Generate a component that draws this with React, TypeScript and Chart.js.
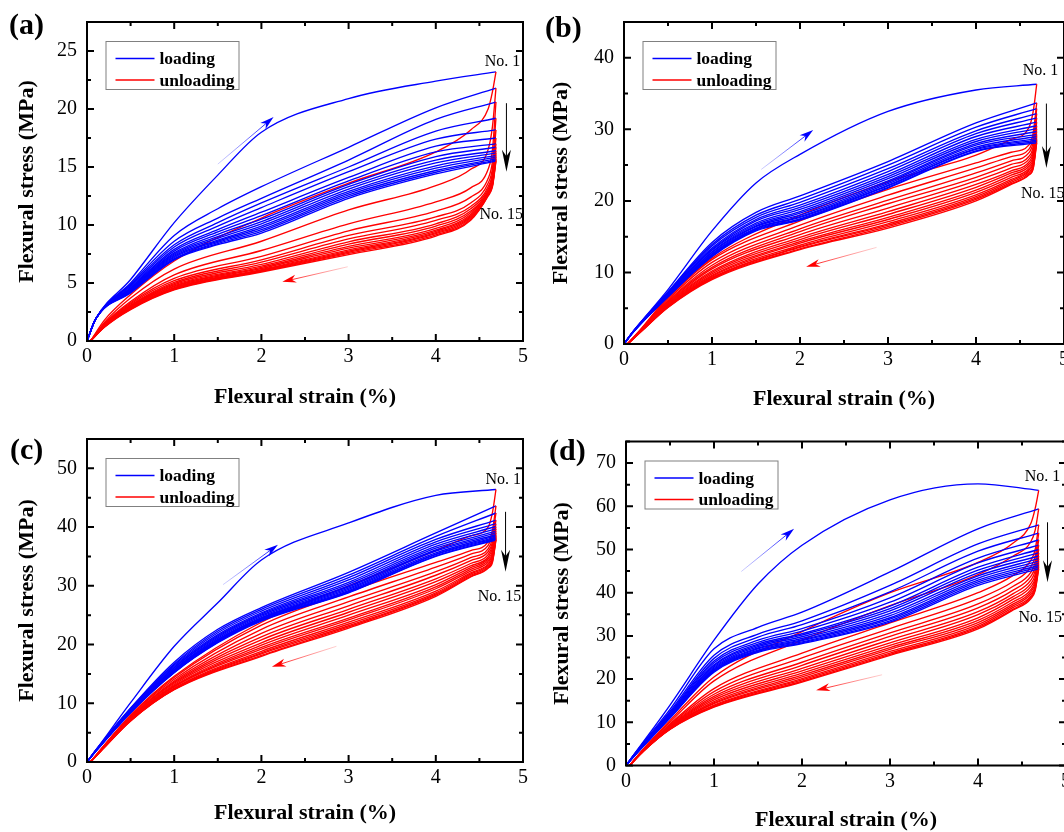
import React, { useEffect, useRef } from 'react';
import { Chart, registerables } from 'chart.js';

Chart.register(...registerables);

// ---------- data ----------
const strainLoad = [0, 0.1, 0.5, 1, 1.5, 2, 3, 4, 4.69];
const strainUnload = [0.04, 0.2, 0.5, 1, 2, 3, 4, 4.4, 4.6, 4.65, 4.69];
const strainTicks = [0, 1, 2, 3, 4, 5];
const stressMax = [27.5, 45, 55, 75];
const stressStep = [5, 10, 10, 10];

const loadingA = [
  [0, 1.9, 5.3, 10.2, 14.3, 18.0, 20.9, 22.4, 23.2],
  [0, 1.9, 5.0, 9.1, 11.4, 13.3, 16.7, 20.1, 21.8],
  [0, 1.9, 4.9, 8.6, 10.6, 12.3, 15.6, 19.1, 20.6],
  [0, 1.9, 4.8, 8.3, 10.2, 11.9, 15.0, 18.1, 19.2],
  [0, 1.9, 4.7, 8.1, 9.9, 11.5, 14.6, 17.4, 18.2],
  [0, 1.9, 4.6, 7.9, 9.6, 11.1, 14.1, 16.8, 17.5],
  [0, 1.9, 4.55, 7.75, 9.4, 10.8, 13.8, 16.3, 17.0],
  [0, 1.9, 4.5, 7.6, 9.2, 10.5, 13.5, 15.9, 16.7],
  [0, 1.9, 4.45, 7.5, 9.0, 10.3, 13.3, 15.6, 16.4],
  [0, 1.9, 4.4, 7.4, 8.85, 10.1, 13.1, 15.35, 16.2],
  [0, 1.9, 4.35, 7.3, 8.7, 9.9, 12.9, 15.1, 16.0],
  [0, 1.9, 4.3, 7.2, 8.6, 9.75, 12.75, 14.9, 15.85],
  [0, 1.9, 4.25, 7.1, 8.5, 9.6, 12.6, 14.7, 15.7],
  [0, 1.9, 4.2, 7.05, 8.4, 9.45, 12.45, 14.55, 15.6],
  [0, 1.9, 4.15, 7.0, 8.3, 9.3, 12.3, 14.4, 15.5],
];
const unloadingA = [
  [0, 1.8, 4.0, 6.9, 10.6, 13.6, 16.3, 18.2, 20.0, 21.5, 23.2],
  [0, 1.6, 3.7, 6.2, 8.6, 11.3, 13.4, 14.8, 16.5, 18.5, 21.8],
  [0, 1.5, 3.4, 5.7, 7.8, 10.1, 12.0, 13.2, 14.8, 16.5, 20.6],
  [0, 1.45, 3.3, 5.4, 7.3, 9.5, 11.2, 12.4, 14.0, 15.5, 19.2],
  [0, 1.4, 3.2, 5.2, 7.0, 9.1, 10.7, 11.9, 13.6, 14.9, 18.2],
  [0, 1.38, 3.1, 5.05, 6.8, 8.8, 10.4, 11.6, 13.3, 14.5, 17.5],
  [0, 1.35, 3.05, 4.95, 6.6, 8.55, 10.1, 11.4, 13.1, 14.2, 17.0],
  [0, 1.33, 3.0, 4.85, 6.45, 8.35, 9.9, 11.2, 12.95, 14.0, 16.7],
  [0, 1.3, 2.95, 4.75, 6.35, 8.15, 9.7, 11.05, 12.85, 13.8, 16.4],
  [0, 1.28, 2.9, 4.68, 6.25, 8.0, 9.55, 10.9, 12.75, 13.7, 16.2],
  [0, 1.26, 2.85, 4.6, 6.15, 7.85, 9.45, 10.8, 12.7, 13.6, 16.0],
  [0, 1.24, 2.8, 4.55, 6.1, 7.75, 9.35, 10.7, 12.65, 13.5, 15.85],
  [0, 1.22, 2.78, 4.5, 6.05, 7.65, 9.25, 10.6, 12.6, 13.45, 15.7],
  [0, 1.2, 2.75, 4.45, 6.0, 7.55, 9.15, 10.5, 12.55, 13.4, 15.6],
  [0, 1.18, 2.7, 4.4, 5.95, 7.45, 9.05, 10.4, 12.5, 13.3, 15.5],
];

const loadingB = [
  [0, 1.7, 7.6, 15.8, 22.5, 26.5, 32.5, 35.5, 36.3],
  [0, 1.7, 7.3, 14.2, 18.4, 20.7, 25.5, 30.9, 33.7],
  [0, 1.7, 7.2, 13.9, 18.0, 20.2, 25.0, 30.3, 32.9],
  [0, 1.7, 7.1, 13.7, 17.7, 19.8, 24.5, 29.8, 32.2],
  [0, 1.7, 7.0, 13.4, 17.4, 19.4, 24.1, 29.4, 31.6],
  [0, 1.65, 7.0, 13.2, 17.2, 19.1, 23.7, 29.0, 31.0],
  [0, 1.65, 6.9, 13.1, 16.9, 18.8, 23.4, 28.6, 30.5],
  [0, 1.65, 6.8, 12.9, 16.7, 18.5, 23.1, 28.3, 30.1],
  [0, 1.65, 6.8, 12.8, 16.5, 18.3, 22.8, 28.0, 29.7],
  [0, 1.6, 6.75, 12.6, 16.4, 18.0, 22.6, 27.8, 29.3],
  [0, 1.6, 6.7, 12.5, 16.2, 17.8, 22.4, 27.5, 29.0],
  [0, 1.6, 6.7, 12.4, 16.1, 17.7, 22.2, 27.3, 28.7],
  [0, 1.6, 6.65, 12.3, 16.0, 17.5, 22.1, 27.2, 28.5],
  [0, 1.6, 6.6, 12.3, 15.9, 17.4, 21.9, 27.0, 28.3],
  [0, 1.6, 6.6, 12.2, 15.8, 17.3, 21.8, 26.9, 28.1],
];
const unloadingB = [
  [0, 2.2, 6.6, 12.0, 18.0, 22.7, 26.4, 28.6, 30.2, 32.5, 36.3],
  [0, 2.15, 6.4, 11.8, 17.2, 21.6, 25.3, 26.8, 27.8, 29.5, 33.7],
  [0, 2.1, 6.2, 11.4, 16.6, 20.8, 24.6, 26.2, 27.2, 28.8, 32.9],
  [0, 2.05, 6.0, 11.0, 16.1, 20.1, 23.9, 25.6, 26.7, 28.2, 32.2],
  [0, 2.0, 5.9, 10.7, 15.7, 19.6, 23.3, 25.1, 26.2, 27.6, 31.6],
  [0, 1.98, 5.75, 10.5, 15.3, 19.0, 22.8, 24.6, 25.8, 27.1, 31.0],
  [0, 1.95, 5.65, 10.2, 14.9, 18.5, 22.3, 24.2, 25.4, 26.7, 30.5],
  [0, 1.92, 5.55, 10.0, 14.6, 18.1, 21.9, 23.9, 25.1, 26.3, 30.1],
  [0, 1.9, 5.45, 9.8, 14.3, 17.7, 21.5, 23.6, 24.8, 25.9, 29.7],
  [0, 1.88, 5.38, 9.6, 14.1, 17.4, 21.2, 23.3, 24.5, 25.6, 29.3],
  [0, 1.86, 5.3, 9.45, 13.8, 17.1, 20.85, 23.0, 24.3, 25.3, 29.0],
  [0, 1.84, 5.25, 9.3, 13.6, 16.8, 20.6, 22.8, 24.1, 25.0, 28.7],
  [0, 1.82, 5.2, 9.2, 13.5, 16.6, 20.4, 22.6, 23.9, 24.8, 28.5],
  [0, 1.81, 5.15, 9.1, 13.3, 16.4, 20.2, 22.4, 23.7, 24.6, 28.3],
  [0, 1.8, 5.1, 9.0, 13.2, 16.2, 20.0, 22.3, 23.6, 24.5, 28.1],
];

const loadingC = [
  [0, 2.0, 10.1, 19.7, 27.1, 34.4, 40.7, 45.4, 46.4],
  [0, 2.0, 9.2, 17.0, 22.6, 26.3, 32.3, 39.0, 43.6],
  [0, 2.0, 9.1, 16.7, 22.3, 26.0, 31.8, 38.4, 42.4],
  [0, 1.95, 9.0, 16.5, 22.0, 25.7, 31.4, 37.9, 41.2],
  [0, 1.95, 8.9, 16.3, 21.7, 25.4, 31.0, 37.5, 40.6],
  [0, 1.95, 8.8, 16.1, 21.5, 25.2, 30.6, 37.1, 40.1],
  [0, 1.9, 8.7, 16.0, 21.3, 25.0, 30.3, 36.7, 39.7],
  [0, 1.9, 8.7, 15.8, 21.1, 24.8, 30.0, 36.4, 39.3],
  [0, 1.9, 8.6, 15.7, 20.9, 24.6, 29.8, 36.1, 39.0],
  [0, 1.85, 8.6, 15.6, 20.8, 24.5, 29.6, 35.9, 38.7],
  [0, 1.85, 8.5, 15.5, 20.7, 24.4, 29.4, 35.6, 38.5],
  [0, 1.85, 8.5, 15.4, 20.6, 24.3, 29.2, 35.4, 38.3],
  [0, 1.8, 8.45, 15.3, 20.5, 24.2, 29.0, 35.3, 38.1],
  [0, 1.8, 8.4, 15.25, 20.4, 24.1, 28.9, 35.1, 37.95],
  [0, 1.8, 8.4, 15.2, 20.3, 24.0, 28.8, 35.0, 37.8],
];
const unloadingC = [
  [0, 2.9, 8.0, 14.6, 23.8, 30.0, 36.0, 38.5, 40.0, 42.5, 46.4],
  [0, 2.85, 7.9, 14.4, 23.3, 29.0, 34.0, 36.0, 37.5, 39.5, 43.6],
  [0, 2.8, 7.8, 14.1, 22.6, 28.1, 33.2, 35.4, 36.9, 38.7, 42.4],
  [0, 2.75, 7.65, 13.8, 21.9, 27.3, 32.4, 34.8, 36.3, 38.0, 41.2],
  [0, 2.7, 7.55, 13.6, 21.3, 26.6, 31.8, 34.3, 35.8, 37.4, 40.6],
  [0, 2.68, 7.45, 13.4, 20.8, 26.0, 31.2, 33.8, 35.3, 36.9, 40.1],
  [0, 2.65, 7.35, 13.2, 20.3, 25.5, 30.7, 33.4, 34.9, 36.4, 39.7],
  [0, 2.62, 7.3, 13.0, 19.9, 25.0, 30.2, 33.1, 34.6, 35.9, 39.3],
  [0, 2.6, 7.25, 12.9, 19.5, 24.5, 29.8, 32.8, 34.3, 35.5, 39.0],
  [0, 2.58, 7.2, 12.8, 19.2, 24.2, 29.5, 32.5, 34.0, 35.2, 38.7],
  [0, 2.56, 7.15, 12.6, 18.85, 23.8, 29.1, 32.2, 33.7, 34.9, 38.5],
  [0, 2.54, 7.1, 12.5, 18.6, 23.5, 28.8, 32.0, 33.5, 34.6, 38.3],
  [0, 2.52, 7.05, 12.4, 18.4, 23.2, 28.6, 31.8, 33.3, 34.4, 38.1],
  [0, 2.51, 7.0, 12.35, 18.15, 23.0, 28.4, 31.6, 33.1, 34.2, 37.95],
  [0, 2.5, 7.0, 12.3, 18.0, 22.8, 28.2, 31.5, 33.0, 34.0, 37.8],
];

const loadingD = [
  [0, 2.8, 14.0, 29.0, 42.0, 51.0, 61.5, 65.2, 63.7],
  [0, 2.8, 13.0, 27.0, 32.0, 35.5, 44.8, 54.8, 59.4],
  [0, 2.7, 12.5, 25.5, 30.4, 33.5, 41.7, 51.3, 55.7],
  [0, 2.7, 12.2, 24.8, 29.7, 32.6, 40.2, 49.6, 53.8],
  [0, 2.6, 12.0, 24.2, 29.0, 31.7, 38.8, 48.0, 52.2],
  [0, 2.6, 11.8, 23.8, 28.5, 31.1, 37.8, 46.9, 51.0],
  [0, 2.6, 11.6, 23.3, 28.1, 30.5, 36.9, 45.9, 50.0],
  [0, 2.5, 11.5, 23.1, 27.8, 30.2, 36.3, 45.2, 49.2],
  [0, 2.5, 11.4, 22.8, 27.5, 29.8, 35.8, 44.6, 48.5],
  [0, 2.5, 11.3, 22.5, 27.2, 29.4, 35.2, 43.9, 47.9],
  [0, 2.4, 11.3, 22.3, 27.0, 29.1, 34.7, 43.4, 47.3],
  [0, 2.4, 11.2, 22.1, 26.7, 28.9, 34.2, 42.9, 46.8],
  [0, 2.4, 11.1, 21.9, 26.5, 28.6, 33.9, 42.5, 46.3],
  [0, 2.3, 11.05, 21.8, 26.4, 28.4, 33.5, 42.1, 45.9],
  [0, 2.3, 11.0, 21.6, 26.2, 28.2, 33.2, 41.7, 45.5],
];
const unloadingD = [
  [0, 3.9, 10.4, 20.5, 31.0, 40.0, 47.0, 51.5, 56.0, 59.5, 63.7],
  [0, 3.8, 10.0, 19.6, 29.0, 37.0, 44.2, 48.5, 51.8, 54.5, 59.4],
  [0, 3.7, 9.6, 17.8, 26.0, 33.0, 40.0, 44.0, 47.5, 50.0, 55.7],
  [0, 3.65, 9.4, 17.1, 24.9, 31.7, 38.6, 42.6, 46.0, 48.4, 53.8],
  [0, 3.6, 9.2, 16.5, 23.9, 30.7, 37.4, 41.5, 44.7, 47.1, 52.2],
  [0, 3.56, 9.05, 16.0, 23.2, 29.9, 36.5, 40.6, 43.8, 46.0, 51.0],
  [0, 3.52, 8.95, 15.6, 22.5, 29.1, 35.6, 39.8, 42.9, 45.1, 50.0],
  [0, 3.48, 8.85, 15.2, 21.9, 28.4, 34.9, 39.1, 42.1, 44.2, 49.2],
  [0, 3.45, 8.75, 14.8, 21.4, 27.8, 34.2, 38.5, 41.4, 43.4, 48.5],
  [0, 3.42, 8.65, 14.5, 20.9, 27.3, 33.6, 37.9, 40.7, 42.8, 47.9],
  [0, 3.4, 8.55, 14.3, 20.5, 26.9, 33.1, 37.4, 40.2, 42.2, 47.3],
  [0, 3.38, 8.5, 14.0, 20.1, 26.4, 32.6, 37.0, 39.7, 41.6, 46.8],
  [0, 3.36, 8.45, 13.8, 19.8, 26.0, 32.2, 36.6, 39.2, 41.2, 46.3],
  [0, 3.35, 8.4, 13.6, 19.5, 25.7, 31.9, 36.2, 38.9, 40.8, 45.9],
  [0, 3.34, 8.35, 13.5, 19.3, 25.5, 31.6, 36.0, 38.6, 40.5, 45.5],
];

// ---------- styling / layout ----------
const SERIF = '"Liberation Serif", "Times New Roman", Times, serif';
const BLUE = '#0000ff';
const RED = '#ff0000';

type Note = { text: string; x: number; y: number };
type Arrow = { x1: number; y1: number; x2: number; y2: number; color: string; fade: string | null; head: number; half: number };

interface PanelCfg {
  label: string;
  left: number; top: number; width: number; height: number;
  padTop: number; padRight: number; yWidth: number; xHeight: number;
  yTitlePad: number; xTitlePad: number;
  labelX: number; labelY: number;
  yMax: number; yStep: number;
  loading: number[][]; unloading: number[][];
  notes: Note[]; arrows: Arrow[];
}

const arrowsFor = (b: number[], r: number[], k: number[]): Arrow[] => [
  { x1: b[0], y1: b[1], x2: b[2], y2: b[3], color: BLUE, fade: 'rgba(120,120,255,0.35)', head: 14, half: 4 },
  { x1: r[0], y1: r[1], x2: r[2], y2: r[3], color: RED, fade: 'rgba(255,120,120,0.35)', head: 14, half: 4 },
  { x1: k[0], y1: k[1], x2: k[2], y2: k[3], color: '#000', fade: null, head: 22, half: 4.5 },
];

const panels: PanelCfg[] = [
  {
    label: '(a)', left: 0, top: 0, width: 532, height: 416,
    padTop: 16, padRight: 5, yWidth: 87, xHeight: 75, yTitlePad: 14, xTitlePad: 5,
    labelX: 9, labelY: 34, yMax: stressMax[0], yStep: stressStep[0],
    loading: loadingA, unloading: unloadingA,
    notes: [{ text: 'No. 1', x: 4.56, y: 24.1 }, { text: 'No. 15', x: 4.5, y: 10.9 }],
    arrows: arrowsFor([1.5, 15.25, 2.14, 19.3], [2.99, 6.4, 2.24, 5.1], [4.81, 20.5, 4.81, 14.6]),
  },
  {
    label: '(b)', left: 532, top: 0, width: 560, height: 416,
    padTop: 21, padRight: 28, yWidth: 92, xHeight: 72, yTitlePad: 16, xTitlePad: 3,
    labelX: 13, labelY: 37, yMax: stressMax[1], yStep: stressStep[1],
    loading: loadingB, unloading: unloadingB,
    notes: [{ text: 'No. 1', x: 4.53, y: 38.2 }, { text: 'No. 15', x: 4.51, y: 21.0 }],
    arrows: arrowsFor([1.56, 24.4, 2.15, 29.9], [2.87, 13.5, 2.07, 10.8], [4.8, 33.6, 4.8, 24.6]),
  },
  {
    label: '(c)', left: 0, top: 416, width: 532, height: 416,
    padTop: 23, padRight: 5, yWidth: 87, xHeight: 70, yTitlePad: 14, xTitlePad: 5,
    labelX: 10, labelY: 43, yMax: stressMax[2], yStep: stressStep[2],
    loading: loadingC, unloading: unloadingC,
    notes: [{ text: 'No. 1', x: 4.57, y: 48.1 }, { text: 'No. 15', x: 4.48, y: 28.2 }],
    arrows: arrowsFor([1.56, 30.2, 2.19, 37.0], [2.86, 19.7, 2.12, 16.2], [4.8, 42.6, 4.8, 32.4]),
  },
  {
    label: '(d)', left: 532, top: 416, width: 560, height: 440,
    padTop: 25.5, padRight: 26, yWidth: 94, xHeight: 90.5, yTitlePad: 17, xTitlePad: 22,
    labelX: 17, labelY: 44, yMax: stressMax[3], yStep: stressStep[3],
    loading: loadingD, unloading: unloadingD,
    notes: [{ text: 'No. 1', x: 4.53, y: 66.9 }, { text: 'No. 15', x: 4.46, y: 34.3 }],
    arrows: arrowsFor([1.31, 44.9, 1.91, 54.8], [2.91, 21.0, 2.16, 17.4], [4.79, 56.3, 4.79, 42.4]),
  },
];

function drawArrow(ctx: CanvasRenderingContext2D, x1: number, y1: number, x2: number, y2: number, a: Arrow) {
  const ang = Math.atan2(y2 - y1, x2 - x1);
  const c = Math.cos(ang), s = Math.sin(ang);
  const bx = x2 - a.head * c, by = y2 - a.head * s;
  const nx = -s, ny = c;
  let stroke: any = a.color;
  if (a.fade) {
    const g = ctx.createLinearGradient(x1, y1, x2, y2);
    g.addColorStop(0, a.fade);
    g.addColorStop(1, a.color);
    stroke = g;
  }
  ctx.strokeStyle = stroke;
  ctx.lineWidth = 1;
  ctx.beginPath();
  ctx.moveTo(x1, y1);
  ctx.lineTo(x2 - a.head * 0.6 * c, y2 - a.head * 0.6 * s);
  ctx.stroke();
  ctx.fillStyle = a.color;
  ctx.beginPath();
  ctx.moveTo(x2, y2);
  ctx.lineTo(bx + nx * a.half, by + ny * a.half);
  ctx.lineTo(x2 - a.head * 0.7 * c, y2 - a.head * 0.7 * s);
  ctx.lineTo(bx - nx * a.half, by - ny * a.half);
  ctx.closePath();
  ctx.fill();
}

const decoPlugin = {
  id: 'deco',
  afterDatasetsDraw(chart: any, _args: any, o: any) {
    const { ctx, chartArea: ca, scales } = chart;
    const xs = scales.x, ys = scales.y;
    ctx.save();
    // frame
    ctx.strokeStyle = '#000';
    ctx.lineWidth = 2;
    ctx.strokeRect(ca.left, ca.top, ca.right - ca.left, ca.bottom - ca.top);
    // inward ticks on all four sides
    const ticksOf = (scale: any, horizontal: boolean) => {
      const vals = scale.ticks.map((t: any) => t.value);
      const step = vals[1] - vals[0];
      for (let v = scale.min; v <= scale.max + 1e-9; v += step / 2) {
        const major = Math.abs(Math.round(v / step) * step - v) < 1e-6;
        const len = major ? 7 : 4;
        const p = scale.getPixelForValue(v);
        ctx.beginPath();
        if (horizontal) {
          ctx.moveTo(p, ca.bottom); ctx.lineTo(p, ca.bottom - len);
          ctx.moveTo(p, ca.top); ctx.lineTo(p, ca.top + len);
        } else {
          ctx.moveTo(ca.left, p); ctx.lineTo(ca.left + len, p);
          ctx.moveTo(ca.right, p); ctx.lineTo(ca.right - len, p);
        }
        ctx.stroke();
      }
    };
    ctx.lineWidth = 2;
    ticksOf(xs, true);
    ticksOf(ys, false);

    // legend box
    const bx = ca.left + 18.5, by = ca.top + 19;
    ctx.fillStyle = '#fff';
    ctx.fillRect(bx, by, 133, 48);
    ctx.strokeStyle = '#808080';
    ctx.lineWidth = 1;
    ctx.strokeRect(bx + 0.5, by + 0.5, 133, 48);
    const items = [{ t: 'loading', c: BLUE, dy: 17.5 }, { t: 'unloading', c: RED, dy: 39 }];
    ctx.font = `bold 17.5px ${SERIF}`;
    ctx.textBaseline = 'middle';
    ctx.textAlign = 'left';
    for (const it of items) {
      ctx.strokeStyle = it.c;
      ctx.lineWidth = 1.5;
      ctx.beginPath();
      ctx.moveTo(bx + 10, by + it.dy);
      ctx.lineTo(bx + 49, by + it.dy);
      ctx.stroke();
      ctx.fillStyle = '#000';
      ctx.fillText(it.t, bx + 54, by + it.dy + 1);
    }

    // notes
    ctx.font = `16px ${SERIF}`;
    ctx.fillStyle = '#000';
    for (const n of o.notes as Note[]) {
      ctx.fillText(n.text, xs.getPixelForValue(n.x), ys.getPixelForValue(n.y));
    }
    // arrows
    for (const a of o.arrows as Arrow[]) {
      drawArrow(ctx, xs.getPixelForValue(a.x1), ys.getPixelForValue(a.y1), xs.getPixelForValue(a.x2), ys.getPixelForValue(a.y2), a);
    }
    // panel label
    ctx.font = `bold 30px ${SERIF}`;
    ctx.textBaseline = 'alphabetic';
    ctx.fillStyle = '#000';
    ctx.fillText(o.label, o.labelX, o.labelY);
    ctx.restore();
  },
};

function buildDatasets(loading: number[][], unloading: number[][]) {
  const ds: any[] = [];
  // dataset 0 is drawn last (on top): latest cycle on top
  for (let i = loading.length - 1; i >= 0; i--) {
    ds.push({
      label: `unloading ${i + 1}`,
      data: unloading[i].map((y, k) => ({ x: strainUnload[k], y })),
      borderColor: RED,
      borderWidth: 1.35,
    });
    ds.push({
      label: `loading ${i + 1}`,
      data: loading[i].map((y, k) => ({ x: strainLoad[k], y })),
      borderColor: BLUE,
      borderWidth: 1.35,
    });
  }
  return ds;
}

function Panel({ p }: { p: PanelCfg }) {
  const ref = useRef<HTMLCanvasElement>(null);
  useEffect(() => {
    const tickFont = { family: SERIF, size: 20 };
    const titleFont = { family: SERIF, size: 22, weight: 'bold' as const };
    const chart = new Chart(ref.current as HTMLCanvasElement, {
      type: 'line',
      data: { datasets: buildDatasets(p.loading, p.unloading) },
      options: {
        responsive: false,
        animation: false,
        events: [],
        layout: { padding: { top: p.padTop, right: p.padRight, left: 0, bottom: 0 } },
        elements: {
          point: { radius: 0 },
          line: { cubicInterpolationMode: 'monotone', borderWidth: 1.35 },
        },
        plugins: {
          legend: { display: false },
          tooltip: { enabled: false },
          deco: { notes: p.notes, arrows: p.arrows, label: p.label, labelX: p.labelX, labelY: p.labelY },
        } as any,
        scales: {
          x: {
            type: 'linear',
            min: strainTicks[0],
            max: strainTicks[strainTicks.length - 1],
            ticks: { stepSize: 1, color: '#000', font: tickFont, padding: 4, maxRotation: 0, includeBounds: false },
            grid: { display: false, drawTicks: false },
            border: { display: false },
            title: { display: true, text: 'Flexural strain (%)', color: '#000', font: titleFont, padding: { top: 0, bottom: p.xTitlePad } },
            afterFit: (s: any) => { s.height = p.xHeight; },
          },
          y: {
            type: 'linear',
            min: 0,
            max: p.yMax,
            ticks: { stepSize: p.yStep, color: '#000', font: tickFont, padding: 10, includeBounds: false },
            grid: { display: false, drawTicks: false },
            border: { display: false },
            title: { display: true, text: 'Flexural stress (MPa)', color: '#000', font: titleFont, padding: { top: p.yTitlePad, bottom: 0 } },
            afterFit: (s: any) => { s.width = p.yWidth; },
          },
        },
      },
      plugins: [decoPlugin as any],
    });
    return () => chart.destroy();
  }, [p]);
  return (
    <canvas
      ref={ref}
      width={p.width}
      height={p.height}
      style={{ position: 'absolute', left: p.left, top: p.top, width: p.width, height: p.height }}
    />
  );
}

export default function App() {
  return (
    <div style={{ position: 'absolute', left: 0, top: 0, width: 1064, height: 832, overflow: 'hidden', background: '#fff' }}>
      {panels.map((p) => (
        <Panel key={p.label} p={p} />
      ))}
    </div>
  );
}
